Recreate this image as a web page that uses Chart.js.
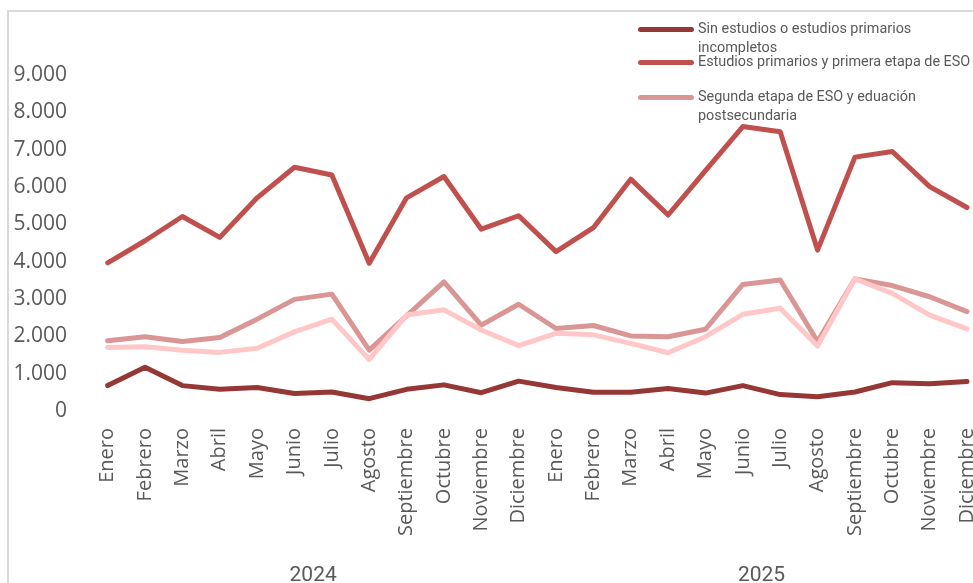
<!DOCTYPE html>
<html>
<head>
<meta charset="utf-8">
<script src="https://cdn.jsdelivr.net/npm/chart.js@4.4.1/dist/chart.umd.min.js"></script>
<style>
    html, body { margin: 0; padding: 0; background: #fff; overflow: hidden; }
    #wrap { position: relative; width: 973px; height: 583px; overflow: hidden; }
    #frame { position: absolute; left: 7px; top: 10px; width: 1100px; height: 700px;
             border-left: 2px solid #D9D9D9; border-top: 2px solid #D9D9D9; }
    #chartBox { position: absolute; left: 0; top: 0; width: 1008px; height: 583px; }
    #legend { position: absolute; left: 638px; top: 0; width: 340px;
              font-family: 'Liberation Sans Narrow', 'Roboto', sans-serif; font-size: 14.4px; color: #595959; }
    .legend-item { position: absolute; left: 0; width: 340px; }
    .legend-line { position: absolute; left: 0; width: 56px; height: 5px; border-radius: 3px; }
    .legend-text { position: absolute; left: 60px; line-height: 19px; white-space: nowrap; }
</style>
</head>
<body>
<div id="wrap">
    <div id="frame"></div>
    <div id="chartBox"><canvas id="lineChart" width="1008" height="583"></canvas></div>
    <div id="legend"></div>
</div>
<script>
// Datos: meses (2024 y 2025)
const MONTHS = ['Enero', 'Febrero', 'Marzo', 'Abril', 'Mayo', 'Junio', 'Julio', 'Agosto',
    'Septiembre', 'Octubre', 'Noviembre', 'Diciembre'];
const YEARS = ['2024', '2025'];
const Y_TICKS = [0, 1000, 2000, 3000, 4000, 5000, 6000, 7000, 8000, 9000];

const SERIES_NAMES = [
    ['Sin estudios o estudios primarios', 'incompletos'],
    ['Estudios primarios y primera etapa de ESO'],
    ['Segunda etapa de ESO y eduación', 'postsecundaria'],
    ['Estudios superiores']
];
const SERIES_COLORS = ['#953735', '#C0504D', '#D99694', '#FFC7C7'];

const sinEstudios = [680, 1170, 680, 580, 630, 470, 510, 330, 580, 700, 490, 800,
    630, 500, 500, 600, 480, 680, 440, 380, 510, 760, 730, 790];
const primariaEso1 = [3970, 4560, 5210, 4650, 5710, 6530, 6320, 3960, 5710, 6280, 4870, 5230,
    4270, 4910, 6210, 5250, 6440, 7620, 7480, 4310, 6800, 6950, 6010, 5450];
const eso2Postsec = [1880, 1990, 1860, 1970, 2460, 2990, 3130, 1630, 2550, 3460, 2300, 2860,
    2210, 2290, 2010, 1990, 2190, 3390, 3510, 1860, 3540, 3360, 3060, 2660];
const superiores = [1700, 1720, 1630, 1570, 1680, 2120, 2460, 1380, 2570, 2710, 2170, 1750,
    2080, 2040, 1810, 1560, 1990, 2590, 2750, 1740, 3540, 3150, 2570, 2200];

const SERIES_DATA = [sinEstudios, primariaEso1, eso2Postsec, superiores];
// solo las tres primeras entradas se ven en la leyenda original
const LEGEND_TOPS = [29, 62, 97];

function buildLabels() {
    const labels = [];
    YEARS.forEach(() => MONTHS.forEach(m => labels.push(m)));
    return labels;
}

function formatThousands(v) {
    return String(v).replace(/\B(?=(\d{3})+(?!\d))/g, '.');
}

function renderLegend() {
    const box = document.getElementById('legend');
    LEGEND_TOPS.forEach((top, i) => {
        const item = document.createElement('div');
        item.className = 'legend-item';
        item.style.top = top + 'px';
        const line = document.createElement('div');
        line.className = 'legend-line';
        line.style.background = SERIES_COLORS[i];
        line.style.top = '-2px';
        const text = document.createElement('div');
        text.className = 'legend-text';
        text.style.top = '-10px';
        text.innerHTML = SERIES_NAMES[i].join('<br>');
        item.appendChild(line);
        item.appendChild(text);
        box.appendChild(item);
    });
}

function renderChart() {
    const ctx = document.getElementById('lineChart').getContext('2d');
    const datasets = SERIES_DATA.map((values, i) => ({
        label: SERIES_NAMES[i].join(' '),
        data: values,
        borderColor: SERIES_COLORS[i],
        backgroundColor: SERIES_COLORS[i],
        borderWidth: 5,
        pointRadius: 0,
        tension: 0,
        borderCapStyle: 'round',
        borderJoinStyle: 'round',
        order: SERIES_DATA.length - 1 - i  // el último queda encima, como en Excel
    }));

    new Chart(ctx, {
        type: 'line',
        data: { labels: buildLabels(), datasets: datasets },
        options: {
            responsive: false,
            animation: false,
            layout: { padding: { top: 75, right: 0, bottom: 0, left: 0 } },
            plugins: { legend: { display: false }, tooltip: { enabled: false } },
            scales: {
                y: {
                    min: 0,
                    max: 9000,
                    afterBuildTicks: axis => { axis.ticks = Y_TICKS.map(v => ({ value: v })); },
                    afterFit: axis => { axis.width = 89; },
                    grid: { display: false, drawTicks: false },
                    border: { display: false },
                    ticks: {
                        padding: 22,
                        color: '#595959',
                        font: { family: "'Open Sans', sans-serif", size: 21 },
                        callback: v => formatThousands(v)
                    }
                },
                x: {
                    offset: true,
                    afterFit: axis => { axis.height = 150; },
                    grid: { display: false, drawTicks: false },
                    border: { display: false },
                    ticks: {
                        autoSkip: false,
                        minRotation: 90,
                        maxRotation: 90,
                        padding: 17,
                        color: '#595959',
                        font: { family: "'Open Sans', sans-serif", size: 20 }
                    }
                },
                years: {
                    type: 'category',
                    position: 'bottom',
                    labels: YEARS,
                    offset: true,
                    afterFit: axis => { axis.height = 22; },
                    grid: { display: false, drawTicks: false },
                    border: { display: false },
                    ticks: {
                        padding: 2,
                        color: '#595959',
                        font: { family: "'Liberation Sans Narrow', 'Roboto', sans-serif", size: 21 }
                    }
                }
            }
        }
    });
}

document.addEventListener('DOMContentLoaded', () => {
    renderLegend();
    renderChart();
});
</script>
</body>
</html>
